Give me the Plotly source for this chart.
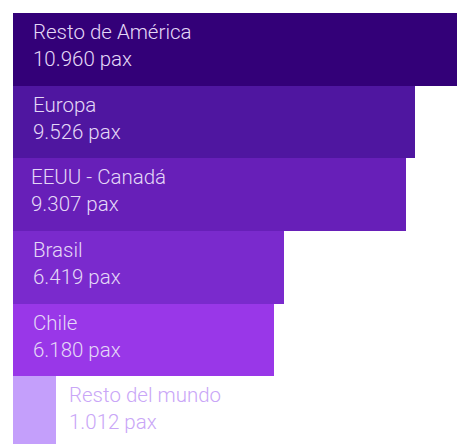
import plotly.graph_objects as go

# destinos y pasajeros
regiones = ["Resto de América", "Europa", "EEUU - Canadá", "Brasil", "Chile", "Resto del mundo"]
pasajeros = [10960, 9526, 9307, 6419, 6180, 1012]
etiquetas = ["10.960 pax", "9.526 pax", "9.307 pax", "6.419 pax", "6.180 pax", "1.012 pax"]
colores = ["#330078", "#4f16a0", "#671fb8", "#7a2acd", "#9937e8", "#c49ffb"]

fig = go.Figure()
fig.add_trace(go.Bar(
    x=pasajeros,
    y=regiones,
    orientation="h",
    marker=dict(color=colores, line=dict(width=0)),
    hoverinfo="skip",
))

# etiquetas: dentro de la barra salvo la ultima, que va fuera
for i, (reg, val, lab) in enumerate(zip(regiones, pasajeros, etiquetas)):
    fuera = i == len(regiones) - 1
    fig.add_annotation(
        x=val if fuera else 0,
        y=reg,
        xref="x", yref="y",
        xanchor="left", yanchor="middle",
        xshift=11 if fuera else (16 if reg == "EEUU - Canadá" else 18),
        yshift=4,
        text=reg + "<br>" + lab,
        align="left",
        showarrow=False,
        font=dict(family="Roboto Light, Roboto", size=20.5, weight=300,
                  color="#c9a6f7" if fuera else "#e4d8f7"),
    )

fig.update_layout(
    width=457,
    height=436,
    margin=dict(l=5, r=0, t=5, b=0),
    paper_bgcolor="white",
    plot_bgcolor="white",
    bargap=0,
    showlegend=False,
    xaxis=dict(range=[0, 10708], visible=False),
    yaxis=dict(range=[5.43, -0.5], visible=False),
)

fig.write_html("out.html")
